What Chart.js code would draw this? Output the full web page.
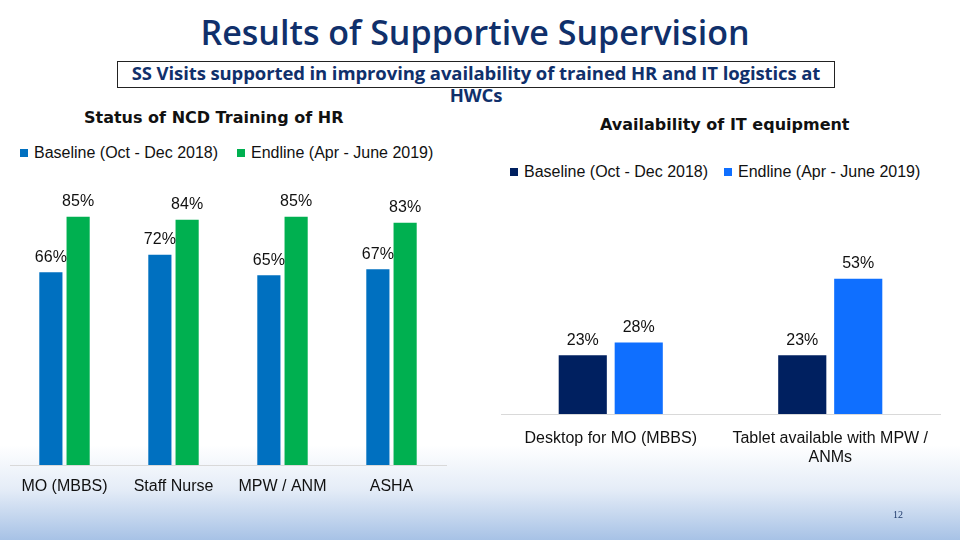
<!DOCTYPE html>
<html>
<head>
<meta charset="utf-8">
<script src="https://cdn.jsdelivr.net/npm/chart.js@4.4.0/dist/chart.umd.min.js"></script>
<style>
  html, body { margin:0; padding:0; }
  body { width:960px; height:540px; position:relative; overflow:hidden;
    background: linear-gradient(to bottom, #ffffff 0px, #ffffff 445px, #e4ecf7 490px, #a7c2e6 540px);
    font-family: "Liberation Sans", Arial, sans-serif; }
  .abs { position:absolute; }
  #title { left:0; width:950px; top:9px; text-align:center; font-family:"Open Sans", sans-serif; font-weight:600; font-size:34px; color:#10306b; line-height:46px; }
  #subbox { left:117px; top:61px; width:716px; height:25px; border:1px solid #222; }
  #subtitle { left:117px; width:718px; top:62px; text-align:center; font-family:"Open Sans", sans-serif; font-weight:700; font-size:18.5px; color:#10306b; line-height:22px; letter-spacing:-0.1px; }
  .ctitle { font-family:"DejaVu Sans", Verdana, sans-serif; font-weight:bold; font-size:16px; color:#111; white-space:nowrap; }
  .leg { font-family:"Liberation Sans", Arial, sans-serif; font-size:16px; color:#111; white-space:nowrap; line-height:18px; }
  .sq { display:inline-block; width:8px; height:8px; margin-right:6px; vertical-align:1px; }
  #pg { left:893px; top:509px; font-family:"Liberation Serif", serif; font-size:10px; color:#1f3a6b; }
</style>
</head>
<body>
<div id="title" class="abs">Results of Supportive Supervision</div>
<div id="subbox" class="abs"></div>
<div id="subtitle" class="abs">SS Visits supported in improving availability of trained HR and IT logistics at HWCs</div>

<div class="abs ctitle" style="left:84px; top:108px;">Status of NCD Training of HR</div>
<div class="abs ctitle" style="left:600px; top:115px;">Availability of IT equipment</div>

<div class="abs leg" style="left:20px; top:144px;"><span class="sq" style="background:#0070C0"></span>Baseline (Oct - Dec 2018)</div>
<div class="abs leg" style="left:237px; top:144px;"><span class="sq" style="background:#00B050"></span>Endline (Apr - June 2019)</div>
<div class="abs leg" style="left:510px; top:163px;"><span class="sq" style="background:#002060"></span>Baseline (Oct - Dec 2018)</div>
<div class="abs leg" style="left:724px; top:163px;"><span class="sq" style="background:#0F6FFF"></span>Endline (Apr - June 2019)</div>

<div class="abs" style="left:0px; top:160px; width:455px; height:370px;"><canvas id="c1"></canvas></div>
<div class="abs" style="left:495px; top:150px; width:455px; height:360px;"><canvas id="c2"></canvas></div>
<div id="pg" class="abs">12</div>

<script>
// ---- Data ----
const hrCategories = ['MO (MBBS)', 'Staff Nurse', 'MPW / ANM', 'ASHA'];
const hrBaseline = [66, 72, 65, 67];
const hrEndline = [85, 84, 85, 83];

const itCategories = [['Desktop for MO (MBBS)'], ['Tablet available with MPW /', 'ANMs']];
const itBaseline = [23, 23];
const itEndline = [28, 53];

const seriesNames = ['Baseline (Oct - Dec 2018)', 'Endline (Apr - June 2019)'];

// ---- Value label plugin ----
const valueLabels = {
  id: 'valueLabels',
  afterDatasetsDraw(chart) {
    const ctx = chart.ctx;
    ctx.save();
    ctx.font = '16px "Liberation Sans", Arial, sans-serif';
    ctx.fillStyle = '#111';
    ctx.textAlign = 'center';
    ctx.textBaseline = 'middle';
    chart.data.datasets.forEach((ds, i) => {
      const meta = chart.getDatasetMeta(i);
      meta.data.forEach((bar, j) => {
        ctx.fillText(ds.data[j] + '%', bar.x, bar.y - 15);
      });
    });
    ctx.restore();
  }
};

function makeChart(id, cats, base, end, colors, opts) {
  return new Chart(document.getElementById(id), {
    type: 'bar',
    data: {
      labels: cats,
      datasets: [
        { label: seriesNames[0], data: base, backgroundColor: colors[0], barPercentage: opts.bp, categoryPercentage: opts.cp },
        { label: seriesNames[1], data: end, backgroundColor: colors[1], barPercentage: opts.bp, categoryPercentage: opts.cp }
      ]
    },
    options: {
      responsive: true,
      maintainAspectRatio: false,
      animation: false,
      layout: { padding: opts.padding },
      plugins: { legend: { display: false }, title: { display: false }, tooltip: { enabled: false } },
      scales: {
        x: {
          grid: { display: false },
          border: { display: true, color: '#d9d9d9', width: 1 },
          ticks: { color: '#111', font: { family: '"Liberation Sans", Arial, sans-serif', size: 16, lineHeight: 1.2 }, padding: opts.tickPad, maxRotation: 0, autoSkip: false },
          afterFit: (s) => { s.height = opts.axisH; }
        },
        y: { display: false, min: 0, max: 100 }
      }
    },
    plugins: [valueLabels]
  });
}

makeChart('c1', hrCategories, hrBaseline, hrEndline, ['#0070C0', '#00B050'],
  { bp: 0.85, cp: 0.5, padding: { left: 10, right: 9, top: 13, bottom: 35 }, tickPad: 4, axisH: 30 });
makeChart('c2', itCategories, itBaseline, itEndline, ['#002060', '#0F6FFF'],
  { bp: 0.86, cp: 0.51, padding: { left: 6, right: 10, top: 9, bottom: 46 }, tickPad: 7, axisH: 50 });
</script>
</body>
</html>
